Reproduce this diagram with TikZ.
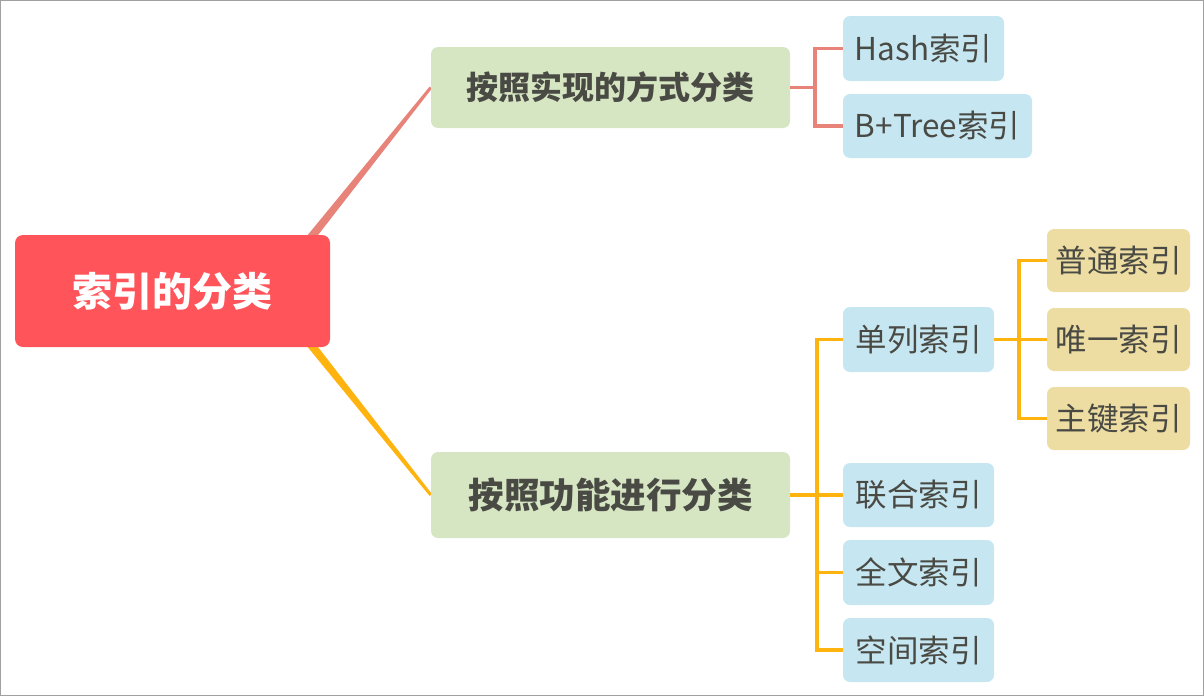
\documentclass[tikz,border=0pt]{standalone}
\usepackage{fontspec}
\setmainfont{Noto Sans CJK SC}
\usetikzlibrary{calc,backgrounds}
\definecolor{rootfill}{HTML}{FF545A}
\definecolor{lonefill}{HTML}{D6E6C3}
\definecolor{ltwofill}{HTML}{C6E7F1}
\definecolor{lthreefill}{HTML}{EDDDA2}
\definecolor{salmon}{HTML}{E8837A}
\definecolor{orangeline}{HTML}{FFB30F}
\definecolor{txt}{HTML}{4A4A45}
\definecolor{frame}{HTML}{A0A0A0}
\begin{document}
\begin{tikzpicture}[x=1pt,y=-1pt,
  rootbox/.style={fill=rootfill, rounded corners=8pt, inner sep=0pt, text=white,
    font=\fontsize{40}{40}\selectfont\bfseries, minimum width=315pt, minimum height=112pt},
  lonebox/.style={fill=lonefill, rounded corners=7pt, inner sep=0pt, text=txt,
    font=\fontsize{32}{32}\selectfont\bfseries, minimum width=359pt},
  ltwobox/.style={fill=ltwofill, rounded corners=7pt, inner sep=0pt, text=txt,
    font=\fontsize{31.5}{31.5}\selectfont, minimum height=64pt},
  lthreebox/.style={fill=lthreefill, rounded corners=7pt, inner sep=0pt, text=txt,
    font=\fontsize{31.5}{31.5}\selectfont, minimum width=143pt, minimum height=63pt},
  elbowsal/.style={draw=salmon, line width=3.5pt},
  elbowora/.style={draw=orangeline, line width=3.5pt},
]
\useasboundingbox (0,0) rectangle (1204,696);
\draw[frame, line width=1pt] (0.5,0.5) rectangle (1203.5,695.5);

\node[rootbox] (root) at (172.5,291) {索引的分类};
\node[lonebox, minimum height=81pt] (A) at (610.5,87.5) {按照实现的方式分类};
\node[lonebox, minimum height=86pt, font=\fontsize{35.5}{35.5}\selectfont\bfseries] (B) at (610.5,495) {按照功能进行分类};

\node[ltwobox, minimum width=161pt, minimum height=65pt] (hash) at (923.5,48.5) {Hash索引};
\node[ltwobox, minimum width=189pt] (btree) at (937.5,126) {B+Tree索引};

\node[ltwobox, minimum width=151pt, minimum height=65pt] (dl) at (918.5,339.5) {单列索引};
\node[ltwobox, minimum width=151pt] (lh) at (918.5,495) {联合索引};
\node[ltwobox, minimum width=151pt, minimum height=65pt] (qw) at (918.5,572.5) {全文索引};
\node[ltwobox, minimum width=151pt] (kj) at (918.5,650) {空间索引};

\node[lthreebox] (pt) at (1118.5,260.5) {普通索引};
\node[lthreebox] (wy) at (1118.5,339.5) {唯一索引};
\node[lthreebox] (zj) at (1118.5,418.5) {主键索引};

\begin{scope}[on background layer]
\coordinate (o) at ($(root.east)+(-62,0)$);
\fill[salmon] ($(o)!5pt!90:(A.west)$) -- ($(A.west)!1.5pt!-90:(o)$)
  -- ($(A.west)!1.5pt!90:(o)$) -- ($(o)!5pt!-90:(A.west)$) -- cycle;
\fill[orangeline] ($(o)!5pt!90:(B.west)$) -- ($(B.west)!1.5pt!-90:(o)$)
  -- ($(B.west)!1.5pt!90:(o)$) -- ($(o)!5pt!-90:(B.west)$) -- cycle;
\end{scope}

\coordinate (ja) at ($(A.east)+(25,0)$);
\draw[elbowsal] (A.east) -- (ja);
\draw[elbowsal] (ja) |- (hash.west);
\draw[elbowsal] (ja) |- (btree.west);

\coordinate (jb) at ($(B.east)+(27,0)$);
\draw[elbowora] (B.east) -- (jb);
\draw[elbowora] (jb) |- (dl.west);
\draw[elbowora] (jb) |- (lh.west);
\draw[elbowora] (jb) |- (qw.west);
\draw[elbowora] (jb) |- (kj.west);

\coordinate (jd) at ($(dl.east)+(25,0)$);
\draw[elbowora] (dl.east) -- (jd);
\draw[elbowora] (jd) |- (pt.west);
\draw[elbowora] (jd) |- (wy.west);
\draw[elbowora] (jd) |- (zj.west);
\end{tikzpicture}
\end{document}
